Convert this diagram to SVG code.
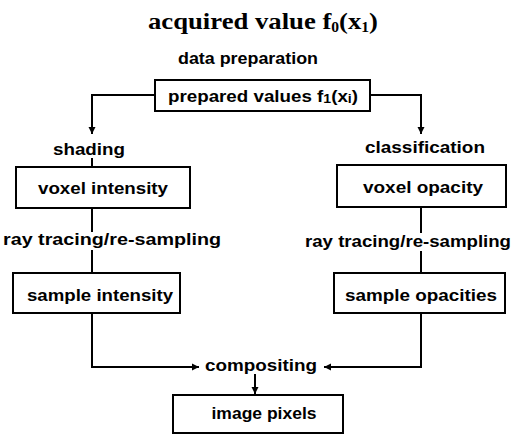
<svg xmlns="http://www.w3.org/2000/svg" width="523" height="435" viewBox="0 0 523 435">
<defs>
<marker id="ah" markerWidth="8" markerHeight="8" refX="7" refY="4" orient="auto" markerUnits="userSpaceOnUse">
<path d="M0,0.5 L7,4 L0,7.5 Z" fill="#000"/>
</marker>
<style>
.box{fill:#fff;stroke:#000;stroke-width:2}
.lbl{font-family:"Liberation Sans",Arial,sans-serif;font-weight:bold;font-size:16px;fill:#000}
.ttl{font-family:"Liberation Serif","Times New Roman",serif;font-weight:bold;font-size:24px;fill:#000}
.ln{fill:none;stroke:#000;stroke-width:2}
</style>
</defs>
<rect width="523" height="435" fill="#fff"/>
<g id="connectors">
<path class="ln" d="M155,95 H92 V134" marker-end="url(#ah)"/>
<path class="ln" d="M370,95 H421 V134" marker-end="url(#ah)"/>
<path class="ln" d="M92,158 V167"/>
<path class="ln" d="M92,208 V232 M92,250 V273"/>
<path class="ln" d="M421,207 V233 M421,251 V273"/>
<path class="ln" d="M92,313 V367 H199" marker-end="url(#ah)"/>
<path class="ln" d="M421,313 V367 H324" marker-end="url(#ah)"/>
<path class="ln" d="M255,374 V394" marker-end="url(#ah)"/>
</g>
<g id="title"><text class="ttl" x="263" y="29" text-anchor="middle" textLength="230" lengthAdjust="spacingAndGlyphs">acquired value f<tspan font-size="14" dy="3">0</tspan><tspan dy="-3">(x</tspan><tspan font-size="14" dy="3">1</tspan><tspan dy="-3">)</tspan></text></g>
<g id="data-preparation"><text class="lbl" x="248" y="64" text-anchor="middle" textLength="140" lengthAdjust="spacingAndGlyphs">data preparation</text></g>
<g id="prepared-values"><rect class="box" x="155" y="80" width="215" height="31"/><text class="lbl" x="263" y="102" text-anchor="middle" textLength="190" lengthAdjust="spacingAndGlyphs">prepared values f<tspan font-size="12" dy="1">1</tspan><tspan dy="-1">(x</tspan><tspan font-size="12" dy="1">i</tspan><tspan dy="-1">)</tspan></text></g>
<g id="shading"><text class="lbl" x="89" y="155" text-anchor="middle" textLength="72" lengthAdjust="spacingAndGlyphs">shading</text></g>
<g id="classification"><text class="lbl" x="425" y="153" text-anchor="middle" textLength="120" lengthAdjust="spacingAndGlyphs">classification</text></g>
<g id="voxel-intensity"><rect class="box" x="16" y="167" width="174" height="41"/><text class="lbl" x="103" y="194" text-anchor="middle" textLength="130" lengthAdjust="spacingAndGlyphs">voxel intensity</text></g>
<g id="voxel-opacity"><rect class="box" x="337" y="165" width="169" height="42"/><text class="lbl" x="423" y="193" text-anchor="middle" textLength="120" lengthAdjust="spacingAndGlyphs">voxel opacity</text></g>
<g id="ray-left"><text class="lbl" x="112" y="245" text-anchor="middle" textLength="218" lengthAdjust="spacingAndGlyphs">ray tracing/re-sampling</text></g>
<g id="ray-right"><text class="lbl" x="408" y="247" text-anchor="middle" textLength="206" lengthAdjust="spacingAndGlyphs">ray tracing/re-sampling</text></g>
<g id="sample-intensity"><rect class="box" x="13" y="273" width="167" height="40"/><text class="lbl" x="100" y="301" text-anchor="middle" textLength="146" lengthAdjust="spacingAndGlyphs">sample intensity</text></g>
<g id="sample-opacities"><rect class="box" x="334" y="273" width="171" height="40"/><text class="lbl" x="421" y="301" text-anchor="middle" textLength="152" lengthAdjust="spacingAndGlyphs">sample opacities</text></g>
<g id="compositing"><text class="lbl" x="261" y="371" text-anchor="middle" textLength="112" lengthAdjust="spacingAndGlyphs">compositing</text></g>
<g id="image-pixels"><rect class="box" x="173" y="395" width="170" height="38"/><text class="lbl" x="264" y="419" text-anchor="middle" textLength="105" lengthAdjust="spacingAndGlyphs">image pixels</text></g>
</svg>
